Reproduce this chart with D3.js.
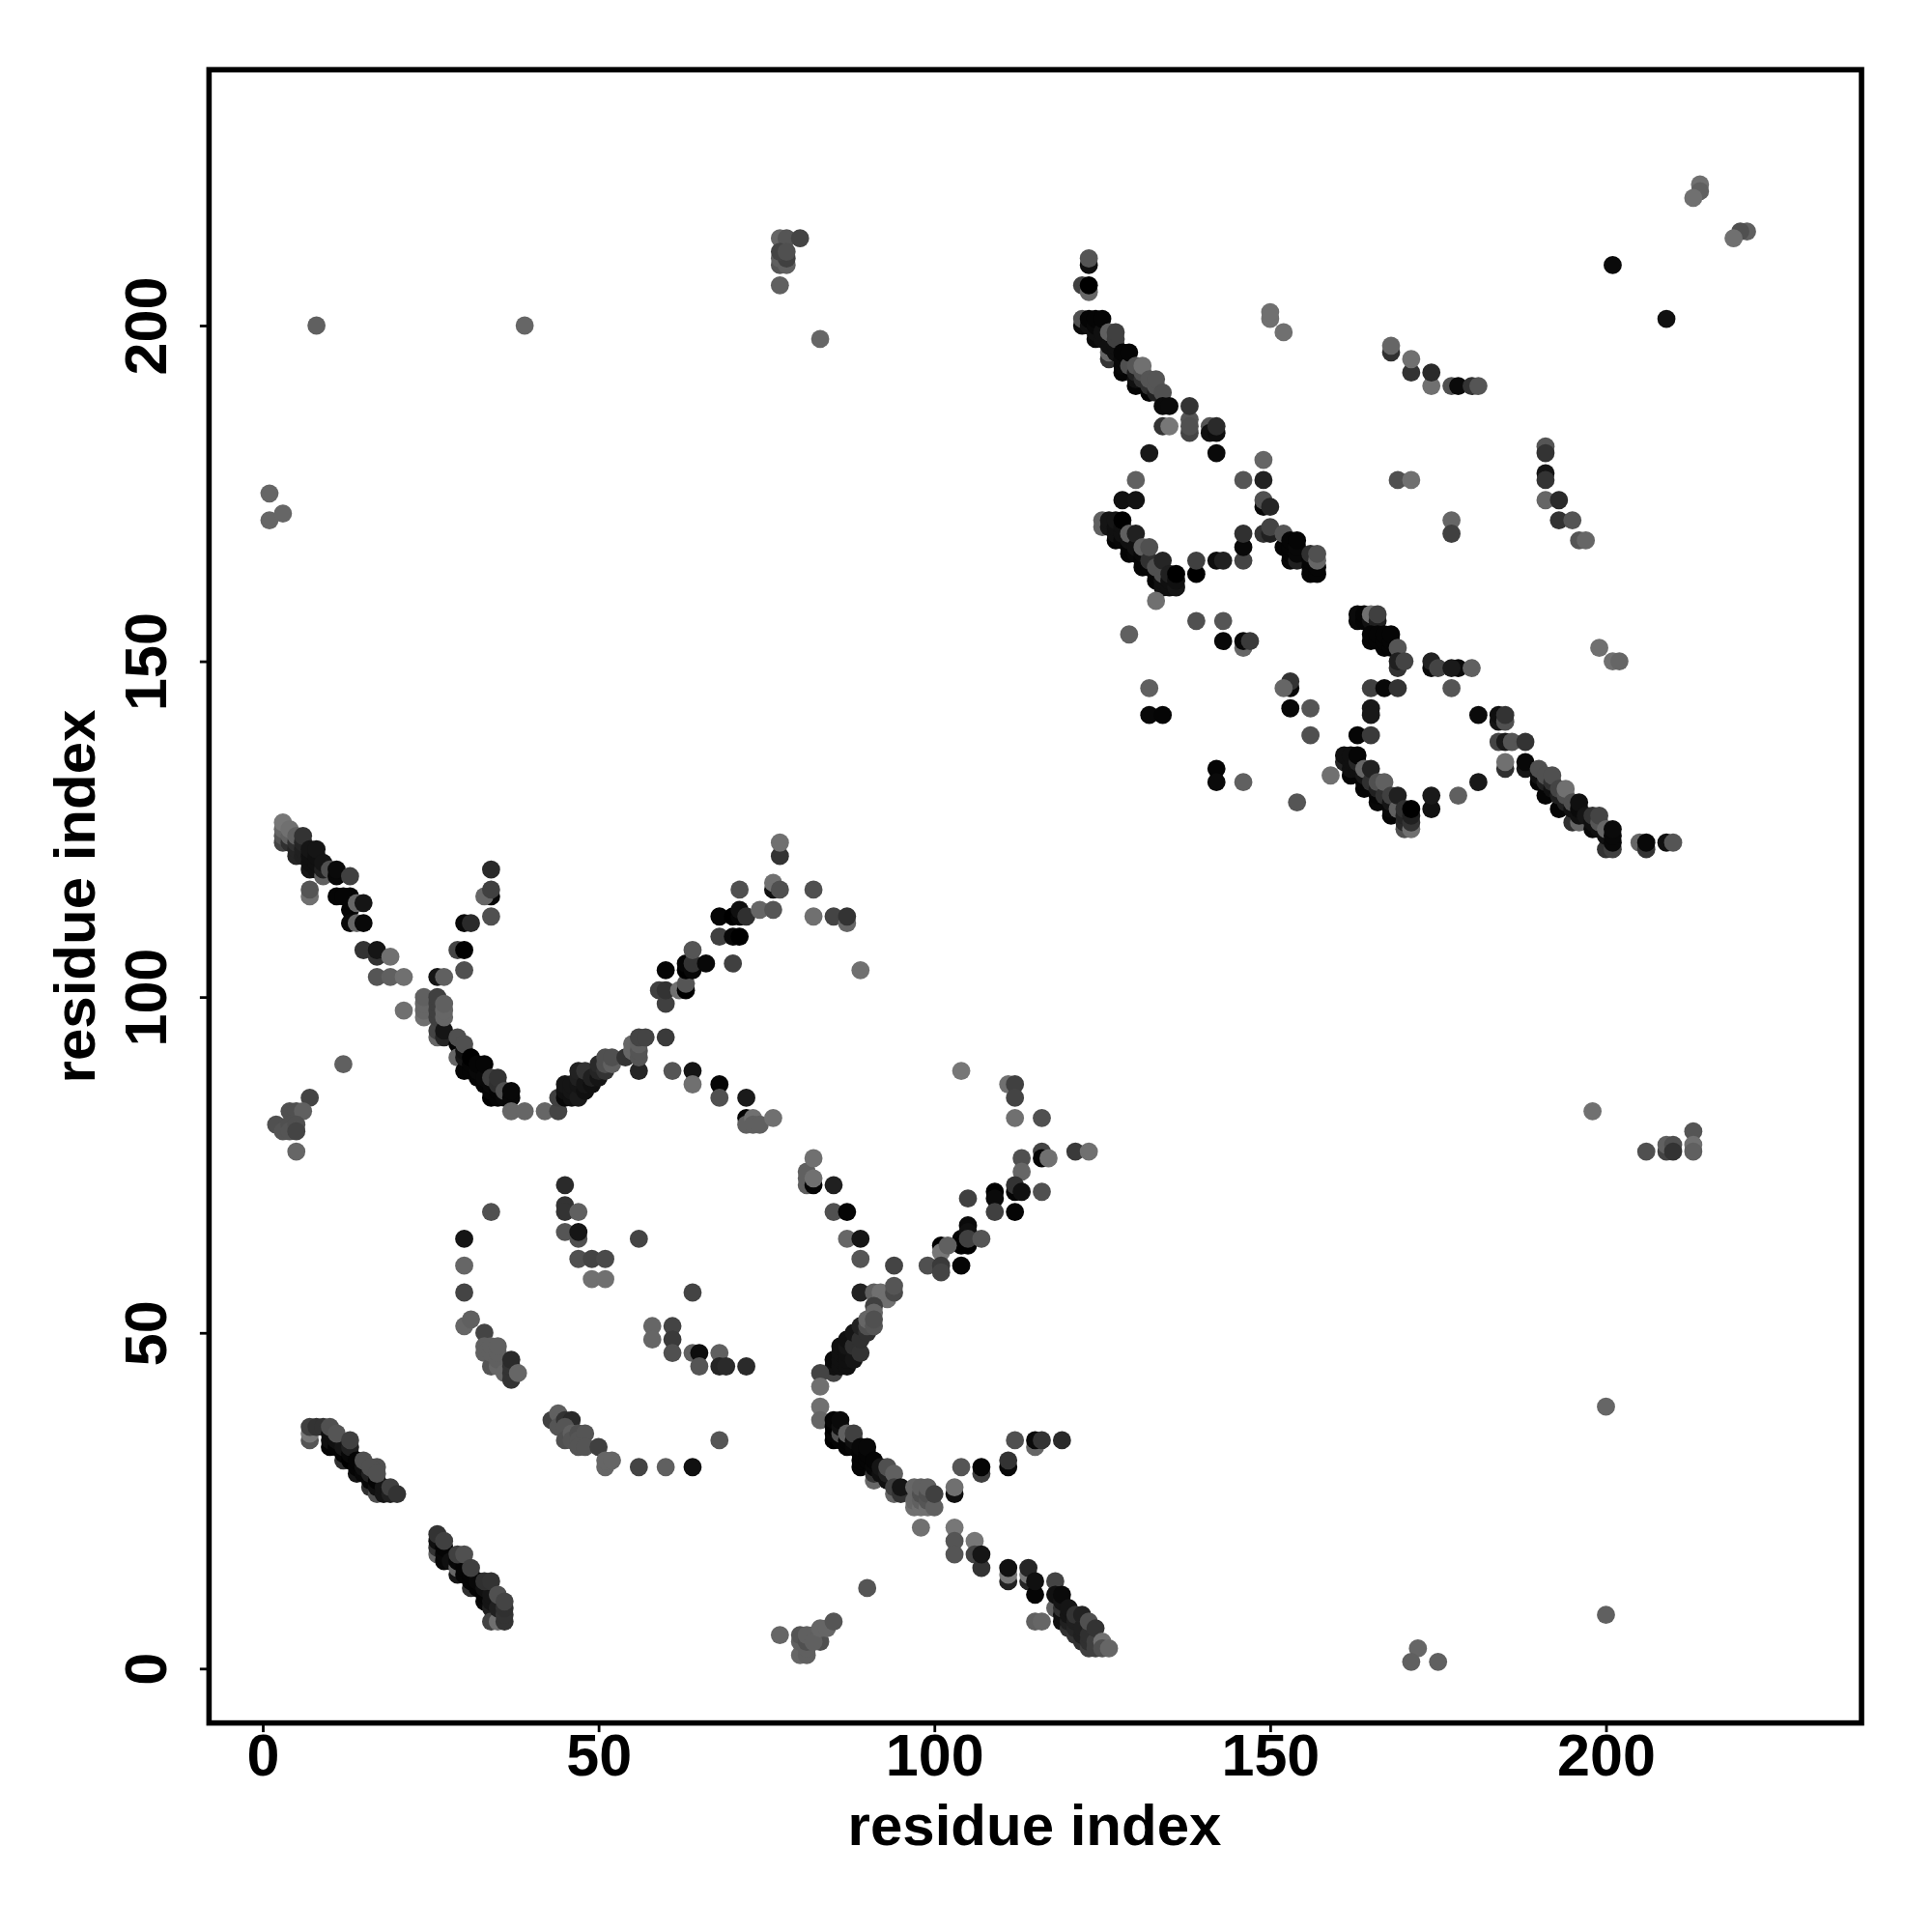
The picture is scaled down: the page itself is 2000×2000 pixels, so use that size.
<!DOCTYPE html>
<html><head><meta charset="utf-8">
<script src="https://cdnjs.cloudflare.com/ajax/libs/d3/7.8.5/d3.min.js"></script>
<style>html,body{margin:0;background:#fff}svg{display:block}</style></head>
<body><svg id="c" width="2000" height="2000"></svg>
<script>
const xTicks=[0,50,100,150,200], yTicks=[0,50,100,150,200];
const axisTitle="residue index";
// each contact: [residue i, residue j, grey level]
const armA=[[3,123,0x44],[3,124,0x55],[3,125,0x66],[3,126,0x77],[4,123,0x30],[4,124,0x60],[4,125,0x70],[5,121,0x25],[5,122,0x25],[5,123,0x30],[5,124,0x60],[6,121,0x20],[6,122,0x20],[6,123,0x25],[6,124,0x33],[7,119,0x15],[7,120,0x10],[7,121,0x10],[7,122,0x15],[7,115,0x70],[7,116,0x55],[8,119,0x10],[8,120,0x10],[8,121,0x10],[8,122,0x15],[9,118,0x60],[9,119,0x20],[9,120,0x15],[10,119,0x50],[11,118,0x08],[11,119,0x0a],[11,115,0x05],[13,118,0x40],[13,115,0x05],[13,113,0x05],[12,115,0x05],[14,114,0x66],[15,114,0x15],[13,111,0x0a],[14,111,0x66],[15,111,0x08],[15,107,0x33],[17,106,0x33],[17,107,0x15],[19,106,0x70],[17,103,0x55],[19,103,0x60],[21,103,0x70],[21,98,0x70]];
const armB=[[24,97,0x70],[24,98,0x66],[24,99,0x66],[24,100,0x60],[26,94,0x66],[26,95,0x44],[26,97,0x40],[26,98,0x40],[26,99,0x40],[26,100,0x40],[27,94,0x25],[27,95,0x15],[27,97,0x66],[27,98,0x66],[27,99,0x60],[29,93,0x05],[29,94,0x50],[29,91,0x66],[30,89,0x05],[30,91,0x15],[30,92,0x10],[30,93,0x50],[31,89,0x05],[31,90,0x05],[31,91,0x00],[32,88,0x05],[32,89,0x08],[32,90,0x05],[33,87,0x05],[33,88,0x08],[33,90,0x05],[34,85,0x00],[34,86,0x05],[34,87,0x08],[34,88,0x40],[35,85,0x05],[35,86,0x05],[35,87,0x30],[35,88,0x33],[36,85,0x08],[36,86,0x50],[37,85,0x08],[37,86,0x08],[37,83,0x66],[39,83,0x66],[42,83,0x66],[44,83,0x44]];
const armC=[[44,85,0x40],[45,85,0x08],[45,86,0x10],[45,87,0x15],[46,85,0x10],[46,86,0x15],[46,87,0x15],[47,85,0x1a],[47,87,0x15],[47,88,0x20],[47,89,0x22],[48,86,0x10],[48,87,0x15],[48,89,0x33],[49,87,0x10],[49,88,0x20],[50,88,0x15],[50,89,0x25],[50,90,0x2a],[51,89,0x33],[51,90,0x50],[51,91,0x50],[52,90,0x60],[52,91,0x50],[54,91,0x33],[55,92,0x66],[55,93,0x66],[56,89,0x25],[56,91,0x55],[56,92,0x55],[56,93,0x60],[56,94,0x44],[57,94,0x44],[60,94,0x3a],[61,89,0x55],[64,89,0x15],[64,87,0x70],[68,87,0x05],[68,85,0x50],[72,85,0x1a],[72,82,0x05],[72,81,0x60],[73,82,0x70],[73,81,0x60],[74,81,0x60],[76,82,0x70]];
const armD=[[59,101,0x40],[60,99,0x40],[60,101,0x33],[60,104,0x05],[62,101,0x70],[63,101,0x00],[63,102,0x55],[63,104,0x00],[63,105,0x05],[64,104,0x08],[64,105,0x33],[64,107,0x55],[66,105,0x08],[68,112,0x05],[68,109,0x40],[70,109,0x08],[70,112,0x00],[70,105,0x40],[71,109,0x00],[71,112,0x05],[71,113,0x10],[71,116,0x50],[72,112,0x30],[74,113,0x66],[76,113,0x55],[76,116,0x10],[76,117,0x70],[77,116,0x50],[77,121,0x33],[77,123,0x70],[82,116,0x50],[82,112,0x70],[85,112,0x44],[87,111,0x66],[87,112,0x33],[89,104,0x70]];
const armE=[[34,119,0x2a],[34,115,0x08],[33,115,0x66],[34,116,0x40],[34,112,0x50],[30,111,0x08],[31,111,0x2a],[29,107,0x44],[30,107,0x00],[30,104,0x50],[26,103,0x15],[27,103,0x60]];
const blockF=[[12,90,0x60],[7,85,0x44],[4,83,0x50],[5,83,0x50],[6,83,0x60],[2,81,0x50],[3,80,0x55],[4,81,0x50],[4,80,0x55],[5,81,0x50],[5,80,0x44],[5,77,0x66]];
const bandG=[[7,34,0x55],[7,35,0x77],[7,36,0x40],[8,36,0x33],[9,36,0x33],[10,33,0x05],[10,34,0x10],[10,35,0x10],[11,33,0x05],[11,34,0x10],[12,31,0x30],[12,32,0x05],[12,33,0x15],[13,31,0x00],[13,32,0x08],[13,33,0x20],[14,29,0x15],[14,30,0x05],[14,31,0x05],[15,29,0x08],[15,30,0x10],[16,27,0x30],[16,28,0x08],[16,29,0x20],[17,26,0x50],[17,27,0x10],[17,28,0x05],[18,26,0x15],[18,27,0x15],[19,26,0x20],[10,36,0x50],[11,35,0x55],[13,34,0x40],[15,31,0x50],[17,30,0x50],[16,30,0x50],[17,29,0x50],[19,27,0x40],[20,26,0x33]];
const bandH=[[26,17,0x66],[26,18,0x33],[26,19,0x10],[27,16,0x08],[27,17,0x08],[27,18,0x05],[28,16,0x10],[29,14,0x15],[29,15,0x66],[29,16,0x08],[30,14,0x05],[30,15,0x05],[31,12,0x30],[31,13,0x05],[31,14,0x05],[32,12,0x05],[32,13,0x08],[33,10,0x08],[33,11,0x05],[33,12,0x10],[34,9,0x20],[34,10,0x15],[34,11,0x15],[34,7,0x44],[35,7,0x70],[35,9,0x20],[36,7,0x33],[36,8,0x33],[36,9,0x30],[26,20,0x33],[27,19,0x40],[29,17,0x40],[30,17,0x50],[31,15,0x40],[33,13,0x30],[34,13,0x33],[35,11,0x50],[36,10,0x44]];
const blockI=[[30,64,0x15],[34,68,0x50],[30,60,0x66],[30,56,0x44],[30,51,0x66],[31,52,0x60],[33,50,0x44],[33,48,0x60],[33,47,0x60],[34,45,0x55],[34,47,0x60],[34,48,0x60],[35,45,0x66],[35,46,0x60],[35,47,0x60],[35,48,0x60],[36,44,0x66],[37,43,0x33],[37,44,0x33],[37,45,0x33],[37,46,0x2a],[38,44,0x66]];
const blockJ=[[45,72,0x2a],[45,69,0x33],[45,68,0x33],[47,68,0x60],[45,65,0x55],[47,64,0x50],[47,65,0x15],[47,61,0x50],[49,61,0x44],[51,61,0x4a],[49,58,0x70],[51,58,0x70],[56,64,0x44],[64,56,0x44],[58,51,0x66],[58,49,0x66],[61,51,0x44],[61,49,0x3a],[61,47,0x50],[64,47,0x60],[65,47,0x0d],[65,45,0x55],[68,47,0x60],[68,45,0x25],[69,45,0x2a],[72,45,0x2a]];
const blockK=[[43,37,0x40],[44,38,0x60],[44,36,0x55],[45,37,0x33],[46,37,0x2a],[45,36,0x55],[45,34,0x50],[46,35,0x60],[46,34,0x55],[47,35,0x50],[47,34,0x55],[48,35,0x55],[47,33,0x55],[48,33,0x55],[50,33,0x40],[51,30,0x66],[51,31,0x66],[52,31,0x66],[56,30,0x44],[60,30,0x60],[64,30,0x10],[68,34,0x55]];
const armL=[[81,72,0x60],[81,73,0x60],[81,74,0x60],[82,72,0x05],[82,73,0x70],[82,76,0x70],[85,72,0x20],[85,68,0x50],[87,68,0x05],[87,64,0x66],[89,64,0x15],[89,61,0x55],[89,56,0x22],[91,56,0x60],[92,56,0x70],[93,55,0x70],[94,60,0x44],[94,56,0x4a],[94,57,0x55],[91,54,0x40],[91,53,0x66],[85,44,0x44],[85,45,0x10],[85,46,0x0a],[86,45,0x10],[86,46,0x10],[86,47,0x10],[86,48,0x10],[87,45,0x10],[87,46,0x10],[87,47,0x10],[87,48,0x15],[87,49,0x10],[88,46,0x15],[88,48,0x30],[88,50,0x15],[89,47,0x33],[89,49,0x30],[89,51,0x22],[90,50,0x30],[90,51,0x50],[90,52,0x66],[91,51,0x55],[91,52,0x50],[83,44,0x44],[83,42,0x70],[83,39,0x70],[83,37,0x66]];
const armM=[[85,34,0x00],[85,35,0x05],[85,36,0x00],[85,37,0x05],[86,34,0x05],[86,35,0x50],[86,36,0x10],[86,37,0x0a],[87,33,0x05],[87,34,0x05],[87,35,0x60],[88,33,0x08],[88,34,0x10],[88,35,0x40],[89,30,0x05],[89,31,0x05],[89,32,0x05],[89,33,0x08],[90,31,0x05],[90,32,0x05],[90,33,0x08],[91,28,0x66],[91,29,0x33],[91,30,0x08],[91,31,0x05],[92,29,0x10],[92,30,0x15],[93,28,0x10],[93,29,0x20],[93,30,0x50],[94,29,0x60],[94,26,0x66],[94,27,0x40],[95,26,0x33],[95,27,0x15],[97,24,0x70],[97,25,0x66],[97,27,0x66],[98,24,0x70],[98,25,0x60],[98,26,0x50],[98,27,0x60],[99,24,0x70],[99,25,0x55],[99,26,0x50],[99,27,0x60],[100,24,0x60],[100,26,0x40],[98,21,0x70],[103,26,0x10],[103,27,0x70],[103,21,0x77],[103,19,0x55],[103,17,0x55],[106,19,0x77],[106,17,0x44],[107,15,0x33],[107,17,0x15]];
const armN=[[111,13,0x22],[111,14,0x77],[111,15,0x10],[114,13,0x25],[114,14,0x77],[114,15,0x25],[115,11,0x05],[115,13,0x10],[115,7,0x60],[116,7,0x66],[118,13,0x44],[118,9,0x60],[118,11,0x10],[119,7,0x10],[119,8,0x10],[119,9,0x30],[119,10,0x15],[119,11,0x0a],[120,6,0x30],[120,7,0x20],[120,8,0x15],[120,9,0x15],[121,5,0x33],[121,6,0x25],[121,7,0x20],[121,8,0x33],[122,4,0x30],[122,5,0x20],[122,6,0x20],[122,8,0x22],[123,3,0x40],[123,4,0x30],[123,5,0x30],[123,7,0x50],[124,3,0x40],[124,4,0x40],[124,6,0x33],[125,4,0x70],[125,3,0x50],[126,3,0x66]];
const armO=[[104,89,0x77],[111,87,0x70],[112,87,0x40],[112,85,0x44],[112,82,0x70],[116,82,0x50],[121,77,0x3a],[123,77,0x70],[116,77,0x44],[116,76,0x05],[117,76,0x70],[113,76,0x50],[113,74,0x66],[116,71,0x50],[112,71,0x05],[112,72,0x33],[113,71,0x10],[112,68,0x05],[109,71,0x00],[109,70,0x0a],[109,68,0x40],[105,70,0x40],[105,66,0x0a],[104,64,0x05],[105,65,0x10],[105,63,0x00],[104,63,0x00],[105,64,0x40],[107,64,0x55],[101,63,0x00],[101,62,0x77],[102,63,0x60],[104,60,0x05],[99,60,0x50],[101,60,0x3a],[101,59,0x44]];
const armP=[[104,30,0x55],[107,29,0x40],[107,30,0x05],[111,30,0x08],[111,31,0x33],[112,34,0x50],[115,33,0x66],[115,34,0x0a],[116,34,0x33],[119,34,0x2a]];
const bandQ=[[122,200,0x0a],[122,201,0x50],[123,200,0x10],[123,201,0x05],[124,198,0x0a],[124,199,0x10],[124,200,0x08],[124,201,0x05],[125,198,0x10],[125,199,0x10],[125,201,0x05],[126,195,0x33],[126,196,0x66],[126,197,0x10],[126,199,0x60],[127,196,0x10],[127,197,0x10],[127,198,0x40],[127,199,0x40],[128,193,0x05],[128,194,0x08],[128,195,0x08],[128,196,0x05],[129,194,0x50],[129,196,0x05],[130,191,0x05],[130,192,0x10],[130,193,0x20],[130,194,0x55],[131,192,0x30],[131,193,0x50],[131,194,0x70],[132,190,0x05],[132,191,0x30],[132,192,0x55],[133,190,0x20],[133,191,0x55],[133,192,0x55],[134,190,0x50],[134,188,0x0a],[135,188,0x0a],[134,185,0x33],[135,185,0x77],[138,184,0x44],[138,186,0x55],[138,188,0x33],[138,185,0x50],[141,185,0x55],[141,184,0x10],[142,184,0x0d],[142,185,0x2a],[132,181,0x18],[142,181,0x0a],[123,209,0x10],[123,210,0x55],[122,206,0x40],[123,205,0x66],[123,206,0x00]];
const bandR=[[125,170,0x60],[125,171,0x60],[126,170,0x15],[126,171,0x15],[127,168,0x05],[127,169,0x10],[127,170,0x10],[127,171,0x15],[128,168,0x08],[128,169,0x10],[128,170,0x10],[128,171,0x00],[129,166,0x05],[129,167,0x05],[129,168,0x10],[129,169,0x60],[130,166,0x08],[130,167,0x10],[130,169,0x20],[131,164,0x05],[131,165,0x05],[131,166,0x08],[131,167,0x60],[132,164,0x05],[132,165,0x30],[132,167,0x50],[133,162,0x05],[133,163,0x05],[133,164,0x50],[134,161,0x10],[134,162,0x10],[134,163,0x50],[134,165,0x25],[135,161,0x10],[135,162,0x10],[135,163,0x20],[136,161,0x15],[136,162,0x10],[136,163,0x00],[133,159,0x70],[139,163,0x00],[139,165,0x40],[142,165,0x0d],[143,165,0x20],[146,165,0x44],[146,167,0x08],[146,169,0x30],[146,177,0x55],[149,177,0x22],[149,180,0x66],[149,173,0x08],[149,174,0x50],[150,173,0x25],[149,169,0x33],[150,169,0x20],[150,170,0x44],[130,177,0x60],[128,174,0x10],[130,174,0x12]];
const bandS=[[152,167,0x05],[152,169,0x55],[153,165,0x08],[153,166,0x05],[153,167,0x05],[153,168,0x05],[154,165,0x20],[154,166,0x08],[154,167,0x08],[154,168,0x05],[156,163,0x05],[156,164,0x05],[156,165,0x05],[156,166,0x30],[157,163,0x05],[157,164,0x05],[157,165,0x66],[157,166,0x50]];
const looseT=[[139,156,0x50],[143,156,0x55],[129,154,0x60],[143,153,0x08],[146,152,0x66],[146,153,0x08],[147,153,0x3a],[132,146,0x60],[132,142,0x08],[134,142,0x05],[153,146,0x08],[153,147,0x33],[152,146,0x66],[153,143,0x08],[156,143,0x55],[156,139,0x50],[142,134,0x05],[142,132,0x0a],[146,132,0x60],[154,129,0x55],[159,133,0x70]];
const bandU=[[163,156,0x08],[163,157,0x0a],[164,156,0x05],[164,157,0x05],[165,156,0x10],[165,157,0x70],[166,156,0x20],[166,157,0x40],[165,153,0x05],[165,154,0x05],[166,153,0x05],[166,154,0x05],[167,152,0x05],[167,153,0x05],[167,154,0x05],[168,152,0x05],[168,153,0x05],[168,154,0x05],[169,152,0x55],[169,149,0x33],[169,150,0x20],[170,150,0x44],[174,149,0x0a],[174,150,0x22],[175,149,0x44],[178,149,0x0a],[177,149,0x1a],[180,149,0x60],[177,146,0x55],[165,146,0x40],[167,146,0x08],[169,146,0x33],[165,143,0x18],[165,142,0x18],[163,139,0x05],[165,139,0x3a]];
const bandV=[[161,135,0x25],[161,136,0x10],[162,133,0x05],[162,134,0x10],[162,135,0x10],[162,136,0x10],[163,134,0x10],[163,135,0x25],[163,136,0x05],[164,131,0x05],[164,132,0x05],[164,133,0x15],[164,134,0x66],[165,132,0x30],[165,134,0x22],[166,129,0x08],[166,130,0x05],[166,131,0x20],[166,132,0x50],[167,130,0x30],[167,132,0x60],[168,127,0x05],[168,128,0x08],[168,129,0x15],[168,130,0x40],[169,128,0x60],[169,130,0x20],[170,125,0x50],[170,126,0x2a],[170,127,0x25],[170,128,0x30],[171,125,0x70],[171,126,0x33],[171,127,0x20],[171,128,0x00],[174,128,0x12],[174,130,0x1a],[178,130,0x60]];
const bandW=[[181,142,0x0a],[184,141,0x15],[184,142,0x0f],[185,141,0x50],[185,142,0x33],[184,138,0x44],[185,138,0x1a],[186,138,0x55],[188,138,0x33],[185,134,0x30],[185,135,0x70],[188,134,0x15],[188,135,0x08],[181,132,0x18],[190,132,0x05],[190,133,0x10],[190,134,0x50],[191,130,0x05],[191,132,0x20],[191,133,0x50],[192,131,0x10],[192,132,0x30],[192,133,0x50],[193,128,0x05],[193,130,0x20],[193,131,0x44],[194,129,0x20],[194,130,0x50],[194,131,0x70],[195,126,0x30],[195,128,0x10],[195,129,0x50],[196,126,0x66],[196,127,0x10],[196,128,0x0a],[196,129,0x10],[197,127,0x15],[198,125,0x0a],[198,126,0x10],[198,127,0x33],[199,125,0x10],[199,126,0x55],[199,127,0x44],[200,122,0x33],[200,124,0x10],[200,125,0x66],[201,122,0x40],[201,123,0x08],[201,124,0x08],[201,125,0x0a],[205,123,0x66],[206,122,0x33],[206,123,0x08],[209,123,0x10],[210,123,0x55]];
const sparseX=[[214,221,0x70],[214,220,0x60],[213,219,0x70],[221,214,0x60],[220,214,0x50],[219,213,0x70],[201,209,0x0a],[209,201,0x10],[199,152,0x70],[201,150,0x70],[202,150,0x66],[198,83,0x70],[206,77,0x50],[209,77,0x44],[209,78,0x60],[210,78,0x50],[210,77,0x33],[213,80,0x55],[213,78,0x70],[213,77,0x60],[200,39,0x66],[200,8,0x60],[172,3,0x66],[171,1,0x60],[175,1,0x60],[8,200,0x60],[39,200,0x66],[1,175,0x66],[1,171,0x66],[3,172,0x66],[77,213,0x66],[78,213,0x55],[80,213,0x44],[77,209,0x55],[77,210,0x60],[78,209,0x60],[78,210,0x40],[77,211,0x44],[78,211,0x50],[77,206,0x60],[83,198,0x66],[77,5,0x66],[80,2,0x66],[81,2,0x60],[80,4,0x60],[80,5,0x55],[81,3,0x60],[81,4,0x50],[81,5,0x60],[82,5,0x60],[83,4,0x50],[82,4,0x60],[83,6,0x66],[84,6,0x66],[85,7,0x55],[90,12,0x55],[150,201,0x70],[150,202,0x70],[152,199,0x70],[168,196,0x30],[168,197,0x66],[171,193,0x33],[171,195,0x70],[174,191,0x70],[174,193,0x2a],[177,191,0x50],[178,191,0x0a],[180,191,0x33],[181,191,0x55],[191,182,0x55],[191,181,0x33],[191,178,0x15],[191,177,0x33],[191,174,0x66],[193,174,0x2a],[193,171,0x33],[195,171,0x55],[196,168,0x55],[197,168,0x66],[177,171,0x66],[177,169,0x40],[169,177,0x50],[171,177,0x70]];

const groups=[armA,armB,armC,armD,armE,blockF,bandG,bandH,blockI,blockJ,blockK,armL,armM,armN,armO,armP,bandQ,bandR,bandS,looseT,bandU,bandV,bandW,sparseX];
const svg=d3.select("#c");
const x=d3.scaleLinear().domain([0,200]).range([272,1662.5]);
const y=d3.scaleLinear().domain([0,200]).range([1727.3,337]);
const fr={l:x(-8),r:x(238.05),t:y(238.1),b:y(-8.1)};
const pts=groups.flat();
svg.append("g").selectAll("circle").data(pts).join("circle")
 .attr("cx",d=>x(d[0])).attr("cy",d=>y(d[1])).attr("r",9.4)
 .attr("fill",d=>`rgb(${d[2]},${d[2]},${d[2]})`);
svg.append("rect").attr("x",fr.l).attr("y",fr.t).attr("width",fr.r-fr.l).attr("height",fr.b-fr.t)
 .attr("fill","none").attr("stroke","#000").attr("stroke-width",5.6);
const font="'Liberation Sans',Arial,sans-serif";
const gx=svg.append("g").attr("transform",`translate(0,${fr.b})`)
 .call(d3.axisBottom(x).tickValues(xTicks).tickSize(9.5).tickPadding(0).tickFormat(d3.format("d")));
const gy=svg.append("g").attr("transform",`translate(${fr.l},0)`)
 .call(d3.axisLeft(y).tickValues(yTicks).tickSize(9.5).tickPadding(0).tickFormat(d3.format("d")));
[gx,gy].forEach(g=>{g.select(".domain").remove();
 g.selectAll("line").attr("stroke","#000").attr("stroke-width",2.8);
 g.selectAll("text").attr("font-family",font).attr("font-weight","700").attr("font-size",61).attr("fill","#000");});
gx.selectAll("text").attr("dy",null).attr("y",1838-fr.b);
gy.selectAll("text").attr("dy",null).attr("x",null).attr("text-anchor","middle")
 .attr("transform",`translate(${172-fr.l},0) rotate(-90)`);
svg.append("text").text(axisTitle).attr("x",1071).attr("y",1910).attr("text-anchor","middle")
 .attr("font-family",font).attr("font-weight","700").attr("font-size",60);
svg.append("text").text(axisTitle).attr("transform","translate(98,928) rotate(-90)").attr("text-anchor","middle")
 .attr("font-family",font).attr("font-weight","700").attr("font-size",60);
</script></body></html>
